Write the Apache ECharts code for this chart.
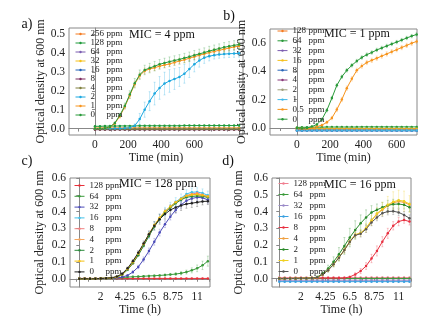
<!DOCTYPE html>
<html>
<head>
<meta charset="utf-8">
<script src="https://cdn.jsdelivr.net/npm/echarts@6/dist/echarts.min.js"></script>
<style>
  html, body { margin: 0; padding: 0; background: #fff; }
  #chart { width: 444px; height: 324px; }
</style>
</head>
<body>
<div id="chart"></div>
<script>
// ---- time axes ----
const tA = [0, 30, 60, 90, 120, 150, 180, 210, 240, 270, 300, 330, 360, 390, 420, 450, 480, 510, 540, 570, 600, 630, 660, 690, 720, 750, 780, 810, 840, 870];
const tB = [0, 30, 60, 90, 120, 150, 180, 210, 240, 270, 300, 330, 360, 390, 420, 450, 480, 510, 540, 570, 600, 630, 660, 690, 720];
const tC = [0, 0.5, 1, 1.5, 2, 2.5, 3, 3.5, 4, 4.5, 5, 5.5, 6, 6.5, 7, 7.5, 8, 8.5, 9, 9.5, 10, 10.5, 11, 11.5, 12];
const tD = tC;

// ---- tick labels ----
const ticksMin = [0, 200, 400, 600];
const ticksH = [2, 4.25, 6.5, 8.75, 11];
const yTicksA = [0, 0.1, 0.2, 0.3, 0.4, 0.5];
const yTicksB = [0, 0.2, 0.4, 0.6];
const yTicksCD = [0, 0.1, 0.2, 0.3, 0.4, 0.5, 0.6];

// ---- panel a (MIC = 4 ppm) ----
const a256 = [0.003, 0.003, 0.003, 0.003, 0.003, 0.003, 0.003, 0.003, 0.003, 0.003, 0.003, 0.003, 0.003, 0.003, 0.003, 0.003, 0.003, 0.003, 0.003, 0.003, 0.003, 0.003, 0.003, 0.003, 0.003, 0.003, 0.003, 0.003, 0.003, 0.003];
const a128 = [0.012, 0.012, 0.013, 0.013, 0.013, 0.014, 0.014, 0.014, 0.014, 0.015, 0.015, 0.015, 0.015, 0.015, 0.015, 0.015, 0.015, 0.015, 0.016, 0.016, 0.016, 0.016, 0.016, 0.016, 0.016, 0.016, 0.016, 0.016, 0.016, 0.016];
const a64 = [0, 0, 0, 0, 0, 0, 0, 0, 0, 0, 0, 0, 0, 0, 0, 0, 0, 0, 0, 0, 0, 0, 0, 0, 0, 0, 0, 0, 0, 0];
const a32 = [0.001, 0.001, 0.001, 0.001, 0.001, 0.001, 0.001, 0.001, 0.001, 0.001, 0.001, 0.001, 0.001, 0.001, 0.001, 0.001, 0.001, 0.001, 0.001, 0.001, 0.001, 0.001, 0.001, 0.001, 0.001, 0.001, 0.001, 0.001, 0.001, 0.001];
const a16 = [-0.003, -0.003, -0.003, -0.003, -0.003, -0.003, -0.003, -0.003, -0.003, -0.003, -0.003, -0.003, -0.003, -0.003, -0.003, -0.003, -0.003, -0.003, -0.003, -0.003, -0.003, -0.003, -0.003, -0.003, -0.003, -0.003, -0.003, -0.003, -0.003, -0.003];
const a8 = [-0.006, -0.006, -0.006, -0.006, -0.006, -0.006, -0.006, -0.006, -0.006, -0.006, -0.006, -0.006, -0.006, -0.006, -0.006, -0.006, -0.006, -0.006, -0.006, -0.006, -0.006, -0.006, -0.006, -0.006, -0.006, -0.006, -0.006, -0.006, -0.006, -0.006];
const a4 = [-0.004, -0.004, -0.004, -0.004, -0.004, -0.004, -0.004, -0.004, -0.004, -0.004, -0.004, -0.004, -0.004, -0.004, -0.004, -0.004, -0.004, -0.004, -0.004, -0.004, -0.004, -0.004, -0.004, -0.004, -0.004, -0.004, -0.004, -0.004, -0.004, -0.004];
const a2 = [0, 0, 0, 0, 0, 0, 0.002, 0.005, 0.015, 0.05, 0.1, 0.145, 0.185, 0.215, 0.238, 0.252, 0.262, 0.273, 0.29, 0.315, 0.34, 0.36, 0.375, 0.383, 0.388, 0.392, 0.394, 0.396, 0.397, 0.398];
const a1 = [0, 0, 0.002, 0.007, 0.027, 0.065, 0.115, 0.175, 0.235, 0.28, 0.305, 0.315, 0.322, 0.33, 0.336, 0.342, 0.35, 0.357, 0.364, 0.372, 0.38, 0.388, 0.395, 0.402, 0.408, 0.414, 0.42, 0.426, 0.432, 0.437];
const a0 = [0, 0, 0.002, 0.008, 0.03, 0.07, 0.12, 0.18, 0.24, 0.285, 0.31, 0.32, 0.33, 0.34, 0.347, 0.354, 0.36, 0.366, 0.373, 0.38, 0.388, 0.395, 0.402, 0.41, 0.417, 0.423, 0.43, 0.435, 0.44, 0.445];
const a2Err = [0, 0, 0, 0, 0, 0, 0, 0, 0.01, 0.03, 0.04, 0.05, 0.06, 0.06, 0.06, 0.06, 0.055, 0.05, 0.05, 0.045, 0.04, 0.035, 0.03, 0.025, 0.02, 0.02, 0.02, 0.02, 0.02, 0.02];
const a1Err = [0, 0, 0, 0, 0.005, 0.01, 0.012, 0.015, 0.015, 0.015, 0.015, 0.015, 0.015, 0.015, 0.015, 0.015, 0.015, 0.015, 0.015, 0.015, 0.015, 0.015, 0.015, 0.015, 0.015, 0.015, 0.015, 0.015, 0.015, 0.015];
const a0Err = [0, 0, 0, 0, 0.005, 0.01, 0.015, 0.02, 0.025, 0.025, 0.025, 0.025, 0.025, 0.025, 0.025, 0.025, 0.025, 0.025, 0.025, 0.025, 0.025, 0.025, 0.025, 0.025, 0.025, 0.025, 0.025, 0.025, 0.025, 0.025];

// ---- panel b (MIC = 1 ppm) ----
const b128 = [-0.004, -0.005, -0.005, -0.005, -0.005, -0.005, -0.005, -0.005, -0.005, -0.005, -0.005, -0.005, -0.005, -0.005, -0.005, -0.005, -0.005, -0.005, -0.005, -0.005, -0.005, -0.005, -0.005, -0.005, -0.005];
const b64 = [0.004, 0.005, 0.005, 0.006, 0.006, 0.006, 0.007, 0.007, 0.007, 0.007, 0.007, 0.007, 0.007, 0.008, 0.008, 0.008, 0.008, 0.008, 0.008, 0.008, 0.008, 0.008, 0.008, 0.008, 0.008];
const b32 = [-0.01, -0.01, -0.01, -0.01, -0.01, -0.01, -0.01, -0.01, -0.01, -0.01, -0.01, -0.01, -0.01, -0.01, -0.01, -0.01, -0.01, -0.01, -0.01, -0.01, -0.01, -0.01, -0.01, -0.01, -0.01];
const b16 = [-0.006, -0.006, -0.006, -0.006, -0.006, -0.006, -0.006, -0.006, -0.006, -0.006, -0.006, -0.006, -0.006, -0.006, -0.006, -0.006, -0.006, -0.006, -0.006, -0.006, -0.006, -0.006, -0.006, -0.006, -0.006];
const b8 = [-0.02, -0.02, -0.02, -0.02, -0.02, -0.02, -0.02, -0.02, -0.02, -0.02, -0.02, -0.02, -0.02, -0.02, -0.02, -0.02, -0.02, -0.02, -0.02, -0.02, -0.02, -0.02, -0.02, -0.02, -0.02];
const b4 = [-0.015, -0.015, -0.015, -0.015, -0.015, -0.015, -0.015, -0.015, -0.015, -0.015, -0.015, -0.015, -0.015, -0.015, -0.015, -0.015, -0.015, -0.015, -0.015, -0.015, -0.015, -0.015, -0.015, -0.015, -0.015];
const b2 = [-0.012, -0.012, -0.012, -0.012, -0.012, -0.012, -0.012, -0.012, -0.012, -0.012, -0.012, -0.012, -0.012, -0.012, -0.012, -0.012, -0.012, -0.012, -0.012, -0.012, -0.012, -0.012, -0.012, -0.012, -0.012];
const b1 = [-0.018, -0.018, -0.018, -0.018, -0.018, -0.018, -0.018, -0.018, -0.018, -0.018, -0.018, -0.018, -0.018, -0.018, -0.018, -0.018, -0.018, -0.018, -0.018, -0.018, -0.018, -0.018, -0.018, -0.018, -0.018];
const b05 = [0, -0.005, -0.005, 0, 0.01, 0.02, 0.04, 0.07, 0.13, 0.2, 0.28, 0.345, 0.405, 0.435, 0.46, 0.475, 0.49, 0.505, 0.52, 0.535, 0.55, 0.565, 0.58, 0.595, 0.608];
const b0 = [0, -0.003, 0, 0.01, 0.025, 0.06, 0.125, 0.21, 0.3, 0.36, 0.405, 0.44, 0.47, 0.495, 0.515, 0.53, 0.548, 0.562, 0.576, 0.59, 0.603, 0.617, 0.632, 0.645, 0.657];
const b05Err = [0, 0, 0, 0, 0.005, 0.008, 0.01, 0.012, 0.015, 0.015, 0.015, 0.015, 0.015, 0.015, 0.015, 0.015, 0.015, 0.015, 0.015, 0.015, 0.015, 0.015, 0.015, 0.015, 0.015];
const b0Err = [0, 0, 0, 0.005, 0.008, 0.01, 0.012, 0.012, 0.012, 0.012, 0.012, 0.012, 0.012, 0.012, 0.012, 0.012, 0.012, 0.012, 0.012, 0.012, 0.012, 0.012, 0.012, 0.012, 0.012];

// ---- panel c (MIC = 128 ppm) ----
const c128 = [0.002, 0.002, 0.002, 0.002, 0.002, 0.002, 0.002, 0.002, 0.002, 0.002, 0.002, 0.002, 0.002, 0.002, 0.002, 0.002, 0.002, 0.002, 0.002, 0.002, 0.002, 0.002, 0.002, 0.002, 0.002];
const c64 = [0, 0, 0.001, 0.001, 0.002, 0.002, 0.003, 0.005, 0.007, 0.01, 0.012, 0.013, 0.015, 0.017, 0.018, 0.02, 0.022, 0.025, 0.028, 0.033, 0.04, 0.05, 0.062, 0.08, 0.105];
const c32 = [0, 0, 0, 0, 0.001, 0.002, 0.003, 0.005, 0.01, 0.02, 0.04, 0.07, 0.115, 0.165, 0.22, 0.275, 0.325, 0.37, 0.41, 0.44, 0.465, 0.478, 0.485, 0.482, 0.47];
const c16 = [0, 0, 0, 0, 0.002, 0.003, 0.005, 0.01, 0.025, 0.055, 0.095, 0.145, 0.2, 0.26, 0.315, 0.36, 0.4, 0.43, 0.458, 0.48, 0.505, 0.515, 0.517, 0.51, 0.497];
const c8 = [0, 0, 0, 0, 0.002, 0.003, 0.005, 0.01, 0.025, 0.055, 0.093, 0.142, 0.198, 0.257, 0.312, 0.357, 0.397, 0.428, 0.455, 0.475, 0.495, 0.505, 0.51, 0.5, 0.49];
const c4 = [0, 0, 0, 0, 0.002, 0.003, 0.005, 0.011, 0.027, 0.057, 0.097, 0.147, 0.203, 0.262, 0.316, 0.36, 0.398, 0.427, 0.452, 0.472, 0.49, 0.5, 0.5, 0.495, 0.487];
const c2 = [0, 0, 0, 0, 0.002, 0.003, 0.005, 0.01, 0.024, 0.053, 0.092, 0.14, 0.196, 0.255, 0.31, 0.355, 0.394, 0.424, 0.449, 0.47, 0.485, 0.49, 0.493, 0.49, 0.485];
const c1 = [0, 0, 0, 0, 0.002, 0.003, 0.005, 0.011, 0.027, 0.058, 0.099, 0.15, 0.207, 0.266, 0.32, 0.364, 0.402, 0.43, 0.455, 0.477, 0.495, 0.5, 0.503, 0.497, 0.49];
const c0 = [0, 0, 0, 0, 0.002, 0.003, 0.006, 0.013, 0.03, 0.062, 0.105, 0.155, 0.21, 0.265, 0.315, 0.355, 0.385, 0.41, 0.425, 0.437, 0.445, 0.45, 0.455, 0.46, 0.462];
const c64Err = [0, 0, 0, 0, 0, 0, 0, 0, 0, 0, 0.003, 0.003, 0.004, 0.004, 0.005, 0.005, 0.006, 0.007, 0.008, 0.01, 0.012, 0.015, 0.02, 0.025, 0.03];
const c32Err = [0, 0, 0, 0, 0, 0, 0, 0, 0, 0.005, 0.008, 0.01, 0.015, 0.018, 0.02, 0.02, 0.02, 0.02, 0.02, 0.02, 0.02, 0.02, 0.02, 0.02, 0.02];
const c16Err = [0, 0, 0, 0, 0, 0, 0, 0, 0.005, 0.008, 0.01, 0.012, 0.015, 0.02, 0.025, 0.025, 0.025, 0.025, 0.025, 0.025, 0.025, 0.025, 0.025, 0.025, 0.025];
const c0Err = [0, 0, 0, 0, 0, 0, 0, 0, 0.005, 0.008, 0.01, 0.012, 0.015, 0.02, 0.025, 0.03, 0.03, 0.03, 0.03, 0.03, 0.025, 0.025, 0.025, 0.02, 0.02];

// ---- panel d (MIC = 16 ppm) ----
const d128 = [0.006, 0.006, 0.006, 0.006, 0.006, 0.006, 0.006, 0.006, 0.006, 0.006, 0.006, 0.006, 0.006, 0.006, 0.006, 0.006, 0.006, 0.006, 0.006, 0.006, 0.006, 0.006, 0.006, 0.006, 0.006];
const d64 = [0, 0, 0, 0, 0, 0, 0, 0, 0, 0, 0, 0, 0, 0, 0, 0, 0, 0, 0, 0, 0, 0, 0, 0, 0];
const d32 = [-0.01, -0.01, -0.01, -0.01, -0.01, -0.01, -0.01, -0.01, -0.01, -0.01, -0.01, -0.01, -0.01, -0.01, -0.01, -0.01, -0.01, -0.01, -0.01, -0.01, -0.01, -0.01, -0.01, -0.01, -0.01];
const d16 = [-0.018, -0.018, -0.018, -0.018, -0.018, -0.018, -0.018, -0.018, -0.018, -0.018, -0.018, -0.018, -0.018, -0.018, -0.018, -0.018, -0.018, -0.018, -0.018, -0.018, -0.018, -0.018, -0.018, -0.018, -0.018];
const d8 = [0, 0, 0.001, 0.001, 0.002, 0.002, 0.003, 0.003, 0.003, 0.003, 0.003, 0.003, 0.004, 0.01, 0.025, 0.045, 0.075, 0.12, 0.165, 0.22, 0.27, 0.315, 0.34, 0.35, 0.34];
const d4 = [0, 0, 0.001, 0.001, 0.002, 0.002, 0.003, 0.008, 0.025, 0.05, 0.085, 0.125, 0.17, 0.22, 0.26, 0.27, 0.3, 0.345, 0.385, 0.41, 0.435, 0.452, 0.46, 0.455, 0.44];
const d2 = [0, 0, 0.001, 0.001, 0.002, 0.002, 0.003, 0.01, 0.03, 0.06, 0.1, 0.145, 0.195, 0.245, 0.29, 0.33, 0.365, 0.395, 0.41, 0.425, 0.437, 0.443, 0.445, 0.44, 0.425];
const d1 = [0, 0, 0.001, 0.001, 0.002, 0.002, 0.003, 0.008, 0.025, 0.051, 0.086, 0.126, 0.172, 0.222, 0.262, 0.272, 0.302, 0.347, 0.388, 0.415, 0.44, 0.458, 0.467, 0.462, 0.445];
const d0 = [0, 0, 0.001, 0.001, 0.002, 0.002, 0.003, 0.008, 0.025, 0.05, 0.085, 0.125, 0.17, 0.22, 0.258, 0.268, 0.295, 0.335, 0.365, 0.39, 0.4, 0.402, 0.395, 0.38, 0.36];
const d8Err = [0, 0, 0, 0, 0, 0, 0, 0, 0, 0, 0, 0, 0, 0.005, 0.01, 0.015, 0.02, 0.025, 0.03, 0.03, 0.03, 0.025, 0.025, 0.02, 0.02];
const d2Err = [0, 0, 0, 0, 0, 0, 0, 0.005, 0.01, 0.02, 0.03, 0.04, 0.05, 0.055, 0.055, 0.05, 0.045, 0.04, 0.035, 0.03, 0.03, 0.03, 0.025, 0.025, 0.025];
const d1Err = [0, 0, 0, 0, 0, 0, 0, 0, 0.005, 0.01, 0.015, 0.02, 0.02, 0.02, 0.02, 0.02, 0.025, 0.03, 0.035, 0.04, 0.05, 0.06, 0.06, 0.06, 0.05];
const d0Err = [0, 0, 0, 0, 0, 0, 0, 0, 0.005, 0.01, 0.012, 0.015, 0.015, 0.015, 0.015, 0.02, 0.02, 0.02, 0.02, 0.02, 0.02, 0.02, 0.02, 0.02, 0.02];

const FONT = 'Liberation Serif';

// panel definitions: series in legend order (name, colour, values, error bars)
const panels = [
  {
    key: 'a', t: tA, series: [
      ['256', '#f47b20', a256], ['128', '#1f9a3a', a128], ['64', '#7b5cb0', a64],
      ['32', '#f5c01a', a32], ['16', '#2160b8', a16], ['8', '#7d2a5e', a8],
      ['4', '#7f7f3c', a4], ['2', '#1ca8e0', a2, a2Err], ['1', '#f7941d', a1, a1Err],
      ['0', '#2a9a3a', a0, a0Err]
    ]
  },
  {
    key: 'b', t: tB, series: [
      ['128', '#f47b20', b128], ['64', '#2a9a3a', b64], ['32', '#7b5cb0', b32],
      ['16', '#f5c01a', b16], ['8', '#2a66b8', b8], ['4', '#8a3a7a', b4],
      ['2', '#a0a07c', b2], ['1', '#40b8e8', b1], ['0.5', '#f7941d', b05, b05Err],
      ['0', '#2a9a3a', b0, b0Err]
    ]
  },
  {
    key: 'c', t: tC, series: [
      ['128', '#e8303a', c128], ['64', '#3a9a3a', c64, c64Err], ['32', '#4a4ab8', c32, c32Err],
      ['16', '#40c0e8', c16, c16Err], ['8', '#f08080', c8], ['4', '#f5a860', c4],
      ['2', '#2a8a3a', c2], ['1', '#f5c010', c1], ['0', '#222222', c0, c0Err]
    ]
  },
  {
    key: 'd', t: tD, series: [
      ['128', '#f07f90', d128], ['64', '#3a9a3a', d64], ['32', '#9a8ac8', d32],
      ['16', '#3aa0e0', d16], ['8', '#e83040', d8, d8Err], ['4', '#f0a040', d4],
      ['2', '#2a8a2a', d2, d2Err], ['1', '#f0d020', d1, d1Err], ['0', '#555555', d0, d0Err]
    ]
  }
];

const grids = [
  { left: 69, top: 28, width: 174, height: 107 },
  { left: 270, top: 29, width: 147, height: 106 },
  { left: 70, top: 178, width: 140, height: 109 },
  { left: 272, top: 178, width: 139, height: 109 }
];

const legendPos = [
  { left: 70, top: 24.5, gap: 0 },
  { left: 272, top: 21.5, gap: 0.8 },
  { left: 69, top: 176, gap: 1.8 },
  { left: 273, top: 174, gap: 2 }
];

const hTicks = [-0.25, 0.875, 2, 3.125, 4.25, 5.375, 6.5, 7.625, 8.75, 9.875, 11, 12.125];

function xAxisFor(i, min, max, labels, ticks, name, nameGap) {
  return {
    gridIndex: i, type: 'value', min: min, max: max,
    name: name, nameLocation: 'middle', nameGap: nameGap,
    nameTextStyle: { fontFamily: FONT, fontSize: 12, color: '#222' },
    axisLine: { lineStyle: { color: '#888' } },
    axisTick: { length: 3, lineStyle: { color: '#888' }, customValues: ticks },
    axisLabel: { fontFamily: FONT, fontSize: 11.5, color: '#222', margin: 4, customValues: labels, formatter: v => String(v) },
    splitLine: { show: false }
  };
}

function yAxisFor(i, min, max, labels, nameGap) {
  return {
    gridIndex: i, type: 'value', min: min, max: max,
    name: 'Optical density at 600 nm', nameLocation: 'middle', nameGap: nameGap,
    nameTextStyle: { fontFamily: FONT, fontSize: 12, color: '#222' },
    axisLine: { lineStyle: { color: '#888' } },
    axisTick: { length: 3, lineStyle: { color: '#888' }, customValues: labels },
    axisLabel: { fontFamily: FONT, fontSize: 11.5, color: '#222', margin: 4, customValues: labels, formatter: v => v.toFixed(1) },
    splitLine: { show: false }
  };
}

const xAxes = [
  xAxisFor(0, -157, 894, ticksMin, [-100, 0, 100, 200, 300, 400, 500, 600, 700, 800], 'Time (min)', 16),
  xAxisFor(1, -162, 722, ticksMin, [-100, 0, 100, 200, 300, 400, 500, 600, 700], 'Time (min)', 16),
  xAxisFor(2, -0.87, 12.2, ticksH, hTicks, 'Time (h)', 16),
  xAxisFor(3, -0.67, 12.14, ticksH, hTicks, 'Time (h)', 16)
];
const yAxes = [
  yAxisFor(0, -0.034, 0.532, yTicksA, 22),
  yAxisFor(1, -0.049, 0.695, yTicksB, 22),
  yAxisFor(2, -0.049, 0.6, yTicksCD, 24),
  yAxisFor(3, -0.05, 0.6, yTicksCD, 27)
];

function errorBars(name, color, t, v, e, idx) {
  return {
    name: name + '_err', type: 'custom', xAxisIndex: idx, yAxisIndex: idx, clip: true,
    silent: true, z: 1,
    data: t.map((x, i) => [x, v[i], e[i]]).filter(d => d[2] > 0),
    renderItem: (params, api) => {
      const x = api.value(0), y = api.value(1), err = api.value(2);
      const hi = api.coord([x, y + err]);
      const lo = api.coord([x, y - err]);
      const style = { stroke: color, lineWidth: 0.6, opacity: 0.45 };
      return {
        type: 'group', children: [
          { type: 'line', shape: { x1: hi[0], y1: hi[1], x2: lo[0], y2: lo[1] }, style: style },
          { type: 'line', shape: { x1: hi[0] - 1, y1: hi[1], x2: hi[0] + 1, y2: hi[1] }, style: style },
          { type: 'line', shape: { x1: lo[0] - 1, y1: lo[1], x2: lo[0] + 1, y2: lo[1] }, style: style }
        ]
      };
    }
  };
}

const series = [];
const legends = [];
panels.forEach((p, idx) => {
  const names = [];
  p.series.forEach(s => {
    const name = p.key + '|' + s[0];
    names.push(name);
    if (s[3]) series.push(errorBars(name, s[1], p.t, s[2], s[3], idx));
  });
  p.series.forEach(s => {
    const name = p.key + '|' + s[0];
    series.push({
      name: name, type: 'line', xAxisIndex: idx, yAxisIndex: idx,
      data: p.t.map((x, i) => [x, s[2][i]]),
      symbol: 'circle', symbolSize: 2.5, showSymbol: true,
      lineStyle: { width: 1, color: s[1] }, itemStyle: { color: s[1], borderWidth: 0 },
      z: 2
    });
  });
  const lp = legendPos[idx];
  legends.push({
    data: names, orient: 'vertical', left: lp.left, top: lp.top,
    itemGap: lp.gap, itemWidth: 10, itemHeight: 3, selectedMode: false,
    itemStyle: { borderWidth: 0 },
    lineStyle: { width: 1 },
    formatter: n => '{n|' + n.split('|')[1] + '}{p|ppm}',
    textStyle: {
      fontFamily: FONT, fontSize: 9, color: '#222', lineHeight: 9,
      rich: {
        n: { fontFamily: FONT, fontSize: 9, width: 16, lineHeight: 9 },
        p: { fontFamily: FONT, fontSize: 9, lineHeight: 9 }
      }
    }
  });
});

function label(text, x, y, size) {
  return {
    type: 'text', x: x, y: y,
    style: { text: text, font: size + 'px "' + FONT + '"', fill: '#111', textAlign: 'center', textVerticalAlign: 'middle' }
  };
}

const chart = echarts.init(document.getElementById('chart'), null, { renderer: 'canvas' });
chart.setOption({
  animation: false,
  backgroundColor: '#fff',
  grid: grids.map(g => Object.assign({ show: true, borderColor: '#888', borderWidth: 1, backgroundColor: 'transparent' }, g)),
  xAxis: xAxes,
  yAxis: yAxes,
  legend: legends,
  series: series,
  graphic: [
    label('a)', 27, 24, 14), label('b)', 229, 16, 14),
    label('c)', 27, 161, 14), label('d)', 228, 161, 14),
    label('MIC = 4 ppm', 162, 35, 12), label('MIC = 1 ppm', 357, 34, 12),
    label('MIC = 128 ppm', 158, 184, 12), label('MIC = 16 ppm', 360, 185, 12)
  ]
});
</script>
</body>
</html>
